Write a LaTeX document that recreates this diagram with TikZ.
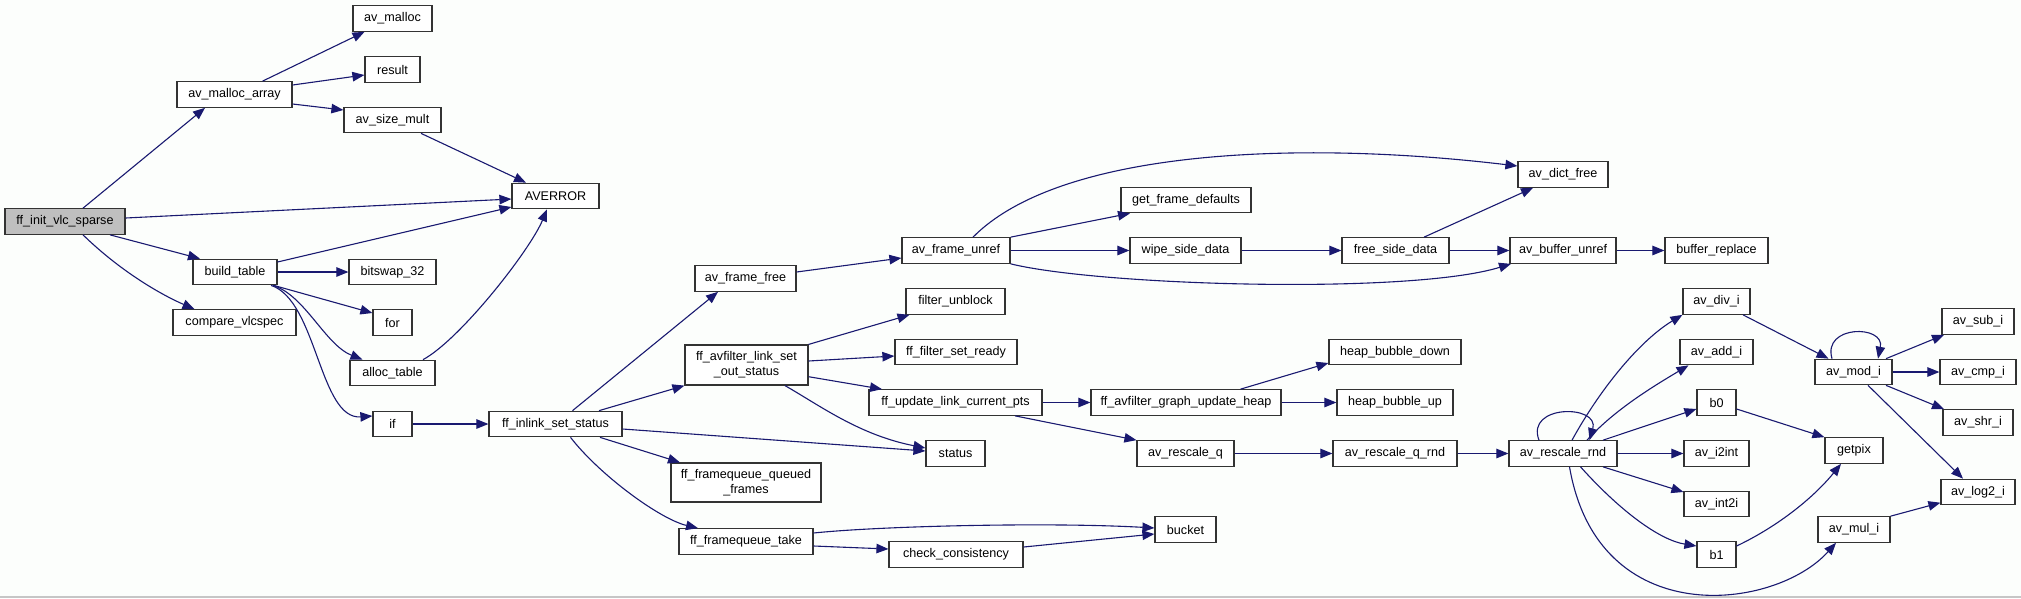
\documentclass[tikz,border=0pt]{standalone}
\usepackage{fontspec}
\setmainfont{Liberation Sans}
\usetikzlibrary{arrows.meta}
\definecolor{navy}{HTML}{191970}
\definecolor{rootgray}{HTML}{BFBFBF}
\definecolor{bg}{RGB}{252,254,252}
\definecolor{boxline}{HTML}{333333}
\tikzset{
  box/.style={draw=boxline, fill=white, line width=1.2pt, inner sep=0pt, minimum height=25.5pt,
    font=\fontsize{12.6}{15}\selectfont, text=black, align=center},
  cg/.style={draw=navy, line width=1.1pt, -{Triangle[length=12pt,width=9.5pt]}, fill=none},
}
\begin{document}
\begin{tikzpicture}[x=1pt,y=-1pt]
\fill[bg] (0,0) rectangle (2021,598);
\useasboundingbox (0,0) rectangle (2021,598);
\draw[gray!45, line width=1.5pt] (0,597) -- (2021,597);
% column 1
\node[box, fill=rootgray, minimum width=120pt] (root) at (65,221.5) {ff\_init\_vlc\_sparse};
% column 2
\node[box, minimum width=115pt] (mallocarr) at (234.5,94.5) {av\_malloc\_array};
\node[box, minimum width=84pt] (build) at (235,272) {build\_table};
\node[box, minimum width=123pt] (compare) at (234.5,322.5) {compare\_vlcspec};
% column 3
\node[box, minimum width=79pt] (avmalloc) at (392.5,18.5) {av\_malloc};
\node[box, minimum width=55pt] (result) at (392.5,69.5) {result};
\node[box, minimum width=97pt] (sizemult) at (392.5,120) {av\_size\_mult};
\node[box, minimum width=87pt] (bitswap) at (392.5,272) {bitswap\_32};
\node[box, minimum width=39pt] (for) at (392.5,322.5) {for};
\node[box, minimum width=85pt] (alloctable) at (392.5,373) {alloc\_table};
\node[box, minimum width=39pt] (if) at (392.5,424) {if};
% column 4
\node[box, minimum width=87pt] (averror) at (555.5,196) {AVERROR};
\node[box, minimum width=133pt] (inlink) at (555.5,424) {ff\_inlink\_set\_status};
% column 5
\node[box, minimum width=101pt] (framefree) at (745.5,278.5) {av\_frame\_free};
\node[box, minimum width=123pt, minimum height=40pt] (setout) at (746.5,365) {ff\_avfilter\_link\_set\\\_out\_status};
\node[box, minimum width=150pt, minimum height=39pt] (queued) at (746,482.5) {ff\_framequeue\_queued\\\_frames};
\node[box, minimum width=134pt] (take) at (746,541.5) {ff\_framequeue\_take};
% column 6
\node[box, minimum width=108pt] (frameunref) at (956,250.5) {av\_frame\_unref};
\node[box, minimum width=99pt] (filterunblock) at (955.5,301.5) {filter\_unblock};
\node[box, minimum width=122pt] (setready) at (956,352) {ff\_filter\_set\_ready};
\node[box, minimum width=173pt] (updatepts) at (955.5,402.5) {ff\_update\_link\_current\_pts};
\node[box, minimum width=59pt] (status) at (955.5,453.5) {status};
\node[box, minimum width=134pt] (check) at (956,554.5) {check\_consistency};
% column 7
\node[box, minimum width=130pt] (getframedef) at (1186,200) {get\_frame\_defaults};
\node[box, minimum width=111pt] (wipe) at (1185.5,250.5) {wipe\_side\_data};
\node[box, minimum width=190pt] (heap) at (1186,402.5) {ff\_avfilter\_graph\_update\_heap};
\node[box, minimum width=97pt] (rescaleq) at (1185.5,453.5) {av\_rescale\_q};
\node[box, minimum width=61pt] (bucket) at (1185.5,529.5) {bucket};
% column 8
\node[box, minimum width=107pt] (freeside) at (1395.5,250.5) {free\_side\_data};
\node[box, minimum width=132pt] (bubbledown) at (1395,352) {heap\_bubble\_down};
\node[box, minimum width=116pt] (bubbleup) at (1395,402.5) {heap\_bubble\_up};
\node[box, minimum width=124pt] (rescaleqrnd) at (1395,453.5) {av\_rescale\_q\_rnd};
% column 9
\node[box, minimum width=90pt] (dictfree) at (1563,174.5) {av\_dict\_free};
\node[box, minimum width=106pt] (bufferunref) at (1563,250.5) {av\_buffer\_unref};
\node[box, minimum width=108pt] (rescalernd) at (1563,453.5) {av\_rescale\_rnd};
% column 10
\node[box, minimum width=103pt] (bufferreplace) at (1716.5,250.5) {buffer\_replace};
\node[box, minimum width=67pt] (divi) at (1716.5,301.5) {av\_div\_i};
\node[box, minimum width=73pt] (addi) at (1716.5,352) {av\_add\_i};
\node[box, minimum width=39pt] (bzero) at (1716.5,402.5) {b0};
\node[box, minimum width=65pt] (i2int) at (1716.5,453.5) {av\_i2int};
\node[box, minimum width=65pt] (int2i) at (1716.5,504) {av\_int2i};
\node[box, minimum width=39pt] (bone) at (1716.5,554.5) {b1};
% column 11
\node[box, minimum width=77pt] (modi) at (1853.5,372) {av\_mod\_i};
\node[box, minimum width=58pt] (getpix) at (1854,450.5) {getpix};
\node[box, minimum width=72pt] (muli) at (1854,529.5) {av\_mul\_i};
% column 12
\node[box, minimum width=72pt] (subi) at (1978,321.5) {av\_sub\_i};
\node[box, minimum width=76pt] (cmpi) at (1978,372) {av\_cmp\_i};
\node[box, minimum width=70pt] (shri) at (1978,422.5) {av\_shr\_i};
\node[box, minimum width=74pt] (log2i) at (1978,492) {av\_log2\_i};

% edges
\draw[cg] ([xshift=18pt]root.north) -- ([xshift=-29.5pt]mallocarr.south);
\draw[cg] ([yshift=3.5pt]root.east) -- ([yshift=-3pt]averror.west);
\draw[cg] ([xshift=45pt]root.south) -- ([xshift=-35pt]build.north);
\draw[cg] ([xshift=18pt]root.south) .. controls +(37,36) and +(-34.5,-15) .. ([xshift=-40pt]compare.north);
\draw[cg] ([xshift=28pt]mallocarr.north) -- ([xshift=-28pt]avmalloc.south);
\draw[cg] ([yshift=9.5pt]mallocarr.east) -- ([yshift=-5.5pt]result.west);
\draw[cg] ([yshift=-9.5pt]mallocarr.east) -- ([yshift=10pt]sizemult.west);
\draw[cg] ([xshift=28.5pt]sizemult.south) -- ([xshift=-29.5pt]averror.north);
\draw[cg] ([yshift=10pt]build.east) -- ([yshift=-11pt]averror.west);
\draw[cg] (build.east) -- (bitswap.west);
\draw[cg] ([xshift=-4pt]build.south east) -- ([yshift=9.5pt]for.west);
\draw[cg] ([xshift=38pt]build.south) .. controls +(32,10) and +(-37.5,-15) .. ([xshift=-30pt]alloctable.north);
\draw[cg] ([xshift=36pt]build.south) .. controls +(46,15) and +(-53,4) .. ([yshift=8pt]if.west);
\draw[cg] ([xshift=30.5pt]alloctable.north) .. controls +(37,-20) and +(-17,41) .. ([xshift=-8.5pt]averror.south);
\draw[cg] (if.east) -- (inlink.west);
\draw[cg] ([xshift=17pt]inlink.north) -- ([xshift=-27.5pt]framefree.south);
\draw[cg] ([xshift=43.5pt]inlink.north) -- (setout.south west);
\draw[cg] ([yshift=-5pt]inlink.east) -- ([yshift=2.5pt]status.west);
\draw[cg] ([xshift=44.5pt]inlink.south) -- ([xshift=-66pt]queued.north);
\draw[cg] ([xshift=15pt]inlink.south) .. controls +(29.5,38) and +(-38,-9) .. ([xshift=-48pt]take.north);
\draw[cg] ([yshift=6.5pt]framefree.east) -- ([yshift=-7.5pt]frameunref.west);
\draw[cg] ([xshift=17pt]frameunref.north) .. controls +(87,-88) and +(-218,-26) .. ([yshift=8.5pt]dictfree.west);
\draw[cg] (frameunref.north east) -- ([xshift=-56pt]getframedef.south);
\draw[cg] (frameunref.east) -- (wipe.west);
\draw[cg] (frameunref.south east) .. controls +(90,22) and +(-101,31) .. ([xshift=-52pt]bufferunref.south);
\draw[cg] (wipe.east) -- (freeside.west);
\draw[cg] ([xshift=28.5pt]freeside.north) -- ([xshift=-30pt]dictfree.south);
\draw[cg] (freeside.east) -- (bufferunref.west);
\draw[cg] (bufferunref.east) -- (bufferreplace.west);
\draw[cg] (setout.north east) -- ([xshift=-46pt]filterunblock.south);
\draw[cg] ([yshift=4pt]setout.east) -- ([yshift=-4pt]setready.west);
\draw[cg] ([yshift=-11.7pt]setout.east) -- ([xshift=-73.5pt]updatepts.north);
\draw[cg] ([xshift=38.5pt]setout.south) .. controls +(35,20) and +(-66,-13) .. ([yshift=5.5pt]status.west);
\draw[cg] (updatepts.east) -- (heap.west);
\draw[cg] ([xshift=59.5pt]updatepts.south) -- (rescaleq.north west);
\draw[cg] ([xshift=54.5pt]heap.north) -- ([yshift=-11pt]bubbledown.west);
\draw[cg] (heap.east) -- (bubbleup.west);
\draw[cg] (rescaleq.east) -- (rescaleqrnd.west);
\draw[cg] (rescaleqrnd.east) -- (rescalernd.west);
\draw[cg] ([yshift=8.5pt]take.east) .. controls +(67,-7) and +(-105,-6) .. ([yshift=1.5pt]bucket.west);
\draw[cg] ([yshift=-4.5pt]take.east) -- ([yshift=5.5pt]check.west);
\draw[cg] ([yshift=7.5pt]check.east) -- ([yshift=-4.5pt]bucket.west);
\draw[cg] ([xshift=-24pt]rescalernd.north) .. controls +(-14,-36) and +(10.5,-36) .. ([xshift=26.5pt]rescalernd.north);
\draw[cg] ([xshift=9pt]rescalernd.north) .. controls +(28,-51) and +(-43,26) .. (divi.south west);
\draw[cg] ([xshift=24pt]rescalernd.north) .. controls +(28,-31) and +(-33.5,20) .. ([xshift=-28pt]addi.south);
\draw[cg] ([xshift=40pt]rescalernd.north) -- ([yshift=-6.5pt]bzero.west);
\draw[cg] (rescalernd.east) -- (i2int.west);
\draw[cg] ([xshift=40pt]rescalernd.south) -- ([yshift=12pt]int2i.west);
\draw[cg] ([xshift=17.5pt]rescalernd.south) .. controls +(39.5,44) and +(-37,-6) .. ([yshift=8.5pt]bone.west);
\draw[cg] ([xshift=6.5pt]rescalernd.south) .. controls +(28.5,166) and +(-61,68) .. ([xshift=-18pt]muli.south);
\draw[cg] ([yshift=-6.5pt]bzero.east) -- (getpix.north west);
\draw[cg] ([yshift=8.5pt]bone.east) .. controls +(44,-21) and +(-26,32) .. ([xshift=-13pt]getpix.south);
\draw[cg] ([xshift=26.5pt]divi.south) -- ([xshift=-25pt]modi.north);
\draw[cg] ([xshift=-21.5pt]modi.north) .. controls +(-10,-34) and +(7,-34) .. ([xshift=24.5pt]modi.north);
\draw[cg] ([xshift=32.5pt]modi.north) -- ([xshift=-34pt]subi.south);
\draw[cg] (modi.east) -- (cmpi.west);
\draw[cg] ([xshift=32.5pt]modi.south) -- ([xshift=-34pt]shri.north);
\draw[cg] ([xshift=14.5pt]modi.south) -- ([xshift=-15pt]log2i.north);
\draw[cg] (muli.north east) -- ([yshift=-10.7pt]log2i.west);
\end{tikzpicture}
\end{document}
